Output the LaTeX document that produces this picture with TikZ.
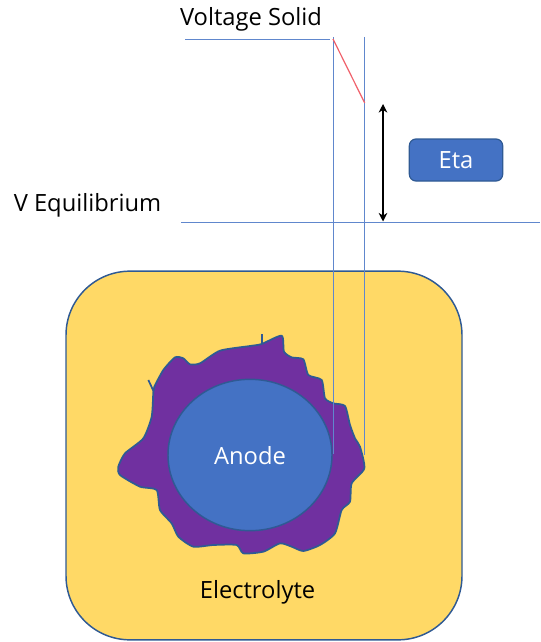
\documentclass[tikz,border=0pt]{standalone}
\usepackage{fontspec}
\usetikzlibrary{shapes.geometric,arrows.meta}
\setmainfont{Open Sans}
\definecolor{cellblue}{HTML}{4472C4}
\definecolor{celledge}{HTML}{2F5A94}
\definecolor{bathyellow}{HTML}{FFD966}
\definecolor{seipurple}{HTML}{7030A0}
\definecolor{dropred}{HTML}{F0606A}
\tikzset{
  px/.style={x=0.75pt,y=-0.75pt},
  guide/.style={draw=cellblue!85!white,line width=0.9pt},
  darktext/.style={font=\fontsize{17.8}{20}\selectfont,text=black,inner sep=0pt,anchor=center},
  whitetext/.style={font=\fontsize{17.8}{20}\selectfont,text=white,inner sep=0pt},
}
\begin{document}
\begin{tikzpicture}[px]
\useasboundingbox (0,0) rectangle (540,642);
% electrolyte bath
\node[draw=celledge,line width=1.1pt,fill=bathyellow,rounded corners=48pt,
      minimum width=297pt,minimum height=276.5pt,inner sep=0pt] (bath) at (264,455.5) {};
\node[darktext] (electrolyte) at (257.5,592) {Electrolyte};
% passivating layer around the particle
\begin{scope}[shift={(100,320)},x=0.25pt,y=-0.25pt]
  \draw[celledge,line width=1.3pt,fill=seipurple] plot[smooth cycle,tension=0.38] coordinates {
    (485,72) (545,47) (552,95) (575,112) (610,118) (625,165) (665,180) (675,235)
    (700,250) (735,258) (750,315) (765,355) (780,380) (793,445) (755,490) (750,545)
    (725,570) (705,640) (660,675) (610,693) (575,680) (540,670) (490,695) (430,700)
    (410,675) (340,675) (280,680) (235,650) (215,610) (180,570) (170,510) (120,500)
    (60,465) (55,440) (75,400) (130,355) (155,290) (160,215) (163,200) (190,150)
    (225,112) (250,115) (270,133) (300,130) (360,92) (450,78)};
  \coordinate (spikeAbase) at (485,72);
  \coordinate (spikeAtip) at (485,42);
  \coordinate (spikeBbase) at (160,212);
  \coordinate (spikeBtip) at (145,180);
  \draw[celledge,line width=1.3pt] (spikeAbase) -- (spikeAtip);
  \draw[celledge,line width=1.3pt] (spikeBbase) -- (spikeBtip);
\end{scope}
% anode particle
\node[ellipse,draw=celledge,line width=1.1pt,fill=cellblue,minimum width=123pt,minimum height=113.5pt,
      inner sep=0pt] (anode) at (250,455) {};
\node[whitetext] (anodetext) at (250,456) {Anode};
% potential levels and probes
\coordinate (solidL) at (185,39.5);
\coordinate (solidR) at (330,39.5);
\coordinate (eqL) at (181,222.7);
\coordinate (eqR) at (540,222.7);
\coordinate (probeAtop) at (333.5,37);
\coordinate (probeAbot) at (333.5,454);
\coordinate (probeBtop) at (364.5,37);
\coordinate (probeBbot) at (364.5,455);
\draw[guide] (solidL) -- (solidR);
\draw[guide] (eqL) -- (eqR);
\draw[guide] (probeAtop) -- (probeAbot);
\draw[guide] (probeBtop) -- (probeBbot);
% potential drop across the layer
\coordinate (dropA) at (333,39);
\coordinate (dropB) at (364.7,103);
\draw[dropred,line width=0.9pt] (dropA) -- (dropB);
% overpotential span
\coordinate (etaTop) at (383,104);
\coordinate (etaBot) at (383,221.5);
\draw[black,line width=0.8pt,{Stealth[length=6.5pt,width=6.5pt]}-{Stealth[length=6.5pt,width=6.5pt]}] (etaTop) -- (etaBot);
\node[draw=celledge,line width=0.9pt,fill=cellblue,rounded corners=5pt,minimum width=70pt,
      minimum height=31.5pt,whitetext] (eta) at (456,160) {Eta};
\node[darktext] (vsolid) at (251,19) {Voltage Solid};
\node[darktext] (veq) at (87.5,205.5) {V Equilibrium};
\end{tikzpicture}
\end{document}
